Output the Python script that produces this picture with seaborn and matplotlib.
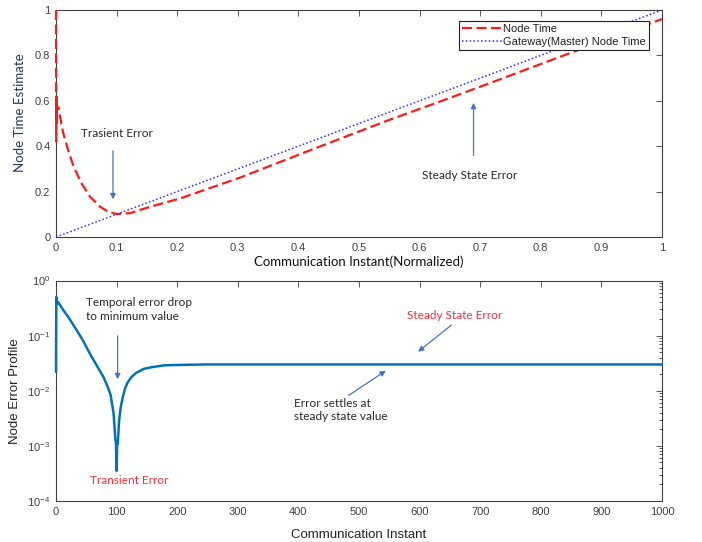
import matplotlib
matplotlib.use("Agg")
import matplotlib.pyplot as plt
from matplotlib.ticker import LogLocator, NullFormatter
import seaborn as sns

# ---- upper panel: node clock estimate vs. gateway clock (normalized) ----
norm_instant = [0.0, 0.0003, 0.0006, 0.001, 0.0015, 0.002, 0.004, 0.0066, 0.012,
                0.020, 0.029, 0.042, 0.056, 0.073, 0.086, 0.100, 0.122, 0.155,
                0.205, 0.304, 0.400, 0.546, 0.634, 0.700, 0.840, 1.000]
node_time = [1.00, 0.42, 0.62, 0.50, 0.60, 0.56, 0.57, 0.53, 0.457,
             0.383, 0.310, 0.237, 0.178, 0.133, 0.111, 0.101, 0.105, 0.133,
             0.170, 0.262, 0.362, 0.512, 0.597, 0.662, 0.802, 0.960]
gateway_instant = [0.0, 1.0]
gateway_time = [0.0, 1.0]

# ---- lower panel: node error profile over communication instants ----
comm_instant = [0, 0.5, 1, 2, 4, 8, 12, 20, 34, 45, 56, 67, 78, 85, 90, 95,
                98, 99, 100, 101, 102, 104, 107, 110, 114, 118, 124, 132, 145,
                160, 180, 210, 250, 300, 400, 1000]
node_error = [0.022, 0.50, 0.48, 0.38, 0.40, 0.34, 0.29, 0.22, 0.126, 0.080,
              0.047, 0.029, 0.018, 0.012, 0.0085, 0.0039, 0.0013, 0.0011,
              0.00035, 0.0012, 0.0011, 0.0028, 0.0052, 0.0075, 0.011, 0.014,
              0.0175, 0.021, 0.025, 0.027, 0.029, 0.0295, 0.030, 0.030, 0.030,
              0.030]

top_xticks = [0, 0.1, 0.2, 0.3, 0.4, 0.5, 0.6, 0.7, 0.8, 0.9, 1.0]
top_xticklabels = ["0", "0.1", "0.2", "0.3", "0.4", "0.5", "0.6", "0.7", "0.8", "0.9", "1"]
top_yticks = [0, 0.2, 0.4, 0.6, 0.8, 1.0]
top_yticklabels = ["0", "0.2", "0.4", "0.6", "0.8", "1"]
bottom_xticks = [0, 100, 200, 300, 400, 500, 600, 700, 800, 900, 1000]
bottom_xticklabels = [str(v) for v in bottom_xticks]

sns.set_theme(style="white")
plt.rcParams["font.family"] = ["Liberation Sans", "DejaVu Sans"]
plt.rcParams["mathtext.fontset"] = "custom"
plt.rcParams["mathtext.rm"] = "Liberation Sans"
plt.rcParams["mathtext.it"] = "Liberation Sans"

AXC = "#404040"
ARROW = "#4472C4"
NOTE = "#262626"
HUMANIST = ["Lato", "DejaVu Sans"]

fig = plt.figure(figsize=(7.02, 5.42), dpi=100)
ax1 = fig.add_axes([56 / 702, 1 - 237 / 542, 606 / 702, 227 / 542])
ax2 = fig.add_axes([56 / 702, 1 - 501 / 542, 606 / 702, 220.5 / 542])

for ax in (ax1, ax2):
    ax.set_facecolor("white")
    for sp in ax.spines.values():
        sp.set_color(AXC)
        sp.set_linewidth(0.8)
    ax.tick_params(which="both", direction="in", top=True, right=True,
                   color=AXC, labelcolor=AXC, labelsize=8, width=0.6)
    ax.tick_params(which="major", length=4, pad=4)
    ax.tick_params(which="minor", length=2)

# upper panel
sns.lineplot(x=norm_instant, y=node_time, ax=ax1, color="#FF1A1A", lw=1.6,
             linestyle=(0, (4.5, 2)), sort=False, estimator=None, label="Node Time",
             clip_on=False, zorder=3)
sns.lineplot(x=gateway_instant, y=gateway_time, ax=ax1, color="#2B2BFF", lw=1.1,
             linestyle=(0, (1, 1.5)), sort=False, estimator=None,
             label="Gateway(Master) Node Time", zorder=3)
ax1.set_xlim(0, 1)
ax1.set_ylim(0, 1)
ax1.set_xticks(top_xticks, top_xticklabels)
ax1.set_yticks(top_yticks, top_yticklabels)
leg = ax1.legend(loc="upper right", bbox_to_anchor=(0.979, 0.952), borderaxespad=0,
                 fancybox=False, framealpha=1, edgecolor="#202020", fontsize=8,
                 handlelength=3.6, handletextpad=0.1, borderpad=0.3,
                 labelspacing=0.25)
leg.get_frame().set_linewidth(0.8)
leg.set_zorder(5)
for t in leg.get_texts():
    t.set_color("#202020")

ax1.set_xlabel("Communication Instant(Normalized)", family=HUMANIST, fontsize=9.5,
               color="#111111")
ax1.xaxis.set_label_coords(0.5, -0.109)
ax1.xaxis.label.set_verticalalignment("center")
ax1.set_ylabel("Node Time Estimate", family=HUMANIST, fontsize=9.5, color="#1F3864")
ax1.yaxis.set_label_coords(-0.0594, 0.55)
ax1.yaxis.label.set_verticalalignment("center")

ax1.text(0.10, 0.455, "Trasient Error", family=HUMANIST, fontsize=8.5, color=NOTE,
         ha="center", va="center")
ax1.annotate("", xy=(0.094, 0.154), xytext=(0.094, 0.392),
             arrowprops=dict(arrowstyle="-|>", color=ARROW, lw=0.9, mutation_scale=8))
ax1.text(0.683, 0.269, "Steady State Error", family=HUMANIST, fontsize=8.5,
         color=NOTE, ha="center", va="center")
ax1.annotate("", xy=(0.689, 0.603), xytext=(0.689, 0.347),
             arrowprops=dict(arrowstyle="-|>", color=ARROW, lw=0.9, mutation_scale=8))

# lower panel
sns.lineplot(x=comm_instant, y=node_error, ax=ax2, color="#0072BD", lw=1.8,
             sort=False, estimator=None, clip_on=False, zorder=3)
ax2.set_yscale("log")
ax2.set_xlim(0, 1000)
ax2.set_ylim(1e-4, 1)
ax2.set_xticks(bottom_xticks, bottom_xticklabels)
ax2.yaxis.set_major_locator(LogLocator(base=10, numticks=10))
ax2.yaxis.set_minor_locator(LogLocator(base=10, subs=range(2, 10), numticks=20))
ax2.yaxis.set_minor_formatter(NullFormatter())
ax2.set_xlabel("Communication Instant", fontsize=9.5, color="#222222")
ax2.xaxis.set_label_coords(0.5, -0.154)
ax2.xaxis.label.set_verticalalignment("center")
ax2.set_ylabel("Node Error Profile", fontsize=9.5, color="#222222")
ax2.yaxis.set_label_coords(-0.0677, 0.5)
ax2.yaxis.label.set_verticalalignment("center")

ax2.text(50, 0.30, "Temporal error drop\nto minimum value", family=HUMANIST,
         fontsize=8.5, color=NOTE, ha="left", va="center", linespacing=1.3)
ax2.annotate("", xy=(101.7, 0.0144), xytext=(101.7, 0.111),
             arrowprops=dict(arrowstyle="-|>", color=ARROW, lw=0.9, mutation_scale=8))
ax2.text(121, 2.35e-4, "Transient Error", family=HUMANIST, fontsize=8.5,
         color="#FF2A3A", ha="center", va="center")
ax2.text(658, 0.229, "Steady State Error", family=HUMANIST, fontsize=8.5,
         color="#FF2A3A", ha="center", va="center")
ax2.annotate("", xy=(594, 0.0475), xytext=(656, 0.167),
             arrowprops=dict(arrowstyle="-|>", color=ARROW, lw=0.9, mutation_scale=8))
ax2.text(392, 0.0045, "Error settles at\nsteady state value", family=HUMANIST,
         fontsize=8.5, color=NOTE, ha="left", va="center", linespacing=1.3)
ax2.annotate("", xy=(548, 0.0246), xytext=(479, 0.0077),
             arrowprops=dict(arrowstyle="-|>", color=ARROW, lw=0.9, mutation_scale=8))

fig.savefig("out.png", dpi=100, facecolor="white")
